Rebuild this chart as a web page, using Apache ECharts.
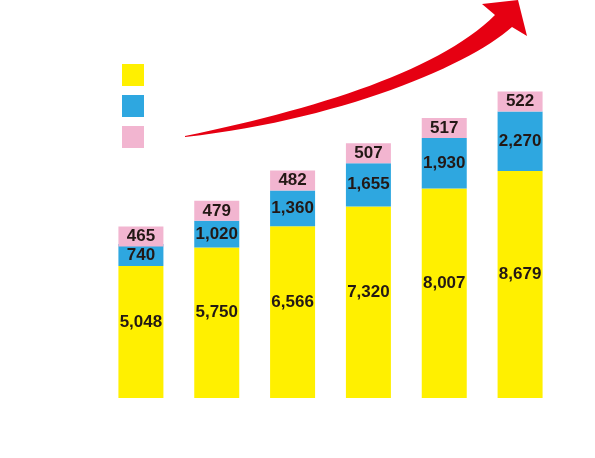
<!DOCTYPE html>
<html>
<head>
<meta charset="utf-8">
<script src="https://cdn.jsdelivr.net/npm/echarts@6/dist/echarts.min.js"></script>
<style>
  html, body { margin: 0; padding: 0; background: #fff; }
  #container { width: 595px; height: 458px; }
</style>
</head>
<body>
<div id="container"></div>
<script>
// 数据
var categories = ['1', '2', '3', '4', '5', '6'];
var yellowVals = [5048, 5750, 6566, 7320, 8007, 8679];
var blueVals = [740, 1020, 1360, 1655, 1930, 2270];
var pinkVals = [465, 479, 482, 507, 517, 522];
var seriesNames = ['A', 'B', 'C'];

var colors = ['#fff000', '#2ea7e0', '#f2b5d0'];

// 箭头的边线（装饰用的贝塞尔曲线取点）
function cubic(p0, p1, p2, p3, n) {
	var pts = [];
	for (var i = 0; i <= n; i++) {
		var t = i / n, u = 1 - t;
		pts.push([
			u*u*u*p0[0] + 3*u*u*t*p1[0] + 3*u*t*t*p2[0] + t*t*t*p3[0],
			u*u*u*p0[1] + 3*u*u*t*p1[1] + 3*u*t*t*p2[1] + t*t*t*p3[1]
		]);
	}
	return pts;
}
function arrowPoints() {
	var upper = cubic([185, 136], [320, 108], [440, 70], [495, 15], 30);
	var head = [[482, 4], [518, 0], [527, 36]];
	var lower = cubic([512, 27], [470, 65], [340, 120], [185, 137], 30);
	return upper.concat(head, lower);
}

function labelOpt(offset) {
	return {
		show: true,
		position: 'inside',
		offset: offset || [0, 0],
		color: '#231815',
		fontSize: 17,
		fontWeight: 'bold',
		fontFamily: 'Liberation Sans, Arial, sans-serif',
		formatter: function (p) { return p.value.toLocaleString('en-US'); }
	};
}

window.onload = function () {
	var myChart = echarts.init(document.getElementById('container'));
	myChart.setOption({
		animation: false,
		color: colors,
		grid: { left: 103, right: 37, top: 84, bottom: 60 },
		legend: {
			orient: 'vertical',
			left: 122,
			top: 64,
			itemWidth: 22,
			itemHeight: 22,
			itemGap: 9,
			icon: 'rect',
			padding: 0,
			formatter: function () { return ''; },
			data: seriesNames
		},
		xAxis: {
			type: 'category',
			data: categories,
			axisLine: { show: false },
			axisTick: { show: false },
			axisLabel: { show: false }
		},
		yAxis: {
			type: 'value',
			min: 0,
			max: 12000,
			show: false,
			splitLine: { show: false }
		},
		series: [
			{
				name: seriesNames[0], type: 'bar', stack: 'total', data: yellowVals,
				barWidth: 45, label: labelOpt([0, -10])
			},
			{
				name: seriesNames[1], type: 'bar', stack: 'total', data: blueVals,
				barWidth: 45, barMinHeight: 22, label: labelOpt()
			},
			{
				name: seriesNames[2], type: 'bar', stack: 'total', data: pinkVals,
				barWidth: 45, barMinHeight: 20, label: labelOpt()
			}
		],
		graphic: [{
			type: 'polygon',
			shape: { points: arrowPoints() },
			style: { fill: '#e60012' },
			z: 10
		}]
	});
};
</script>
</body>
</html>
